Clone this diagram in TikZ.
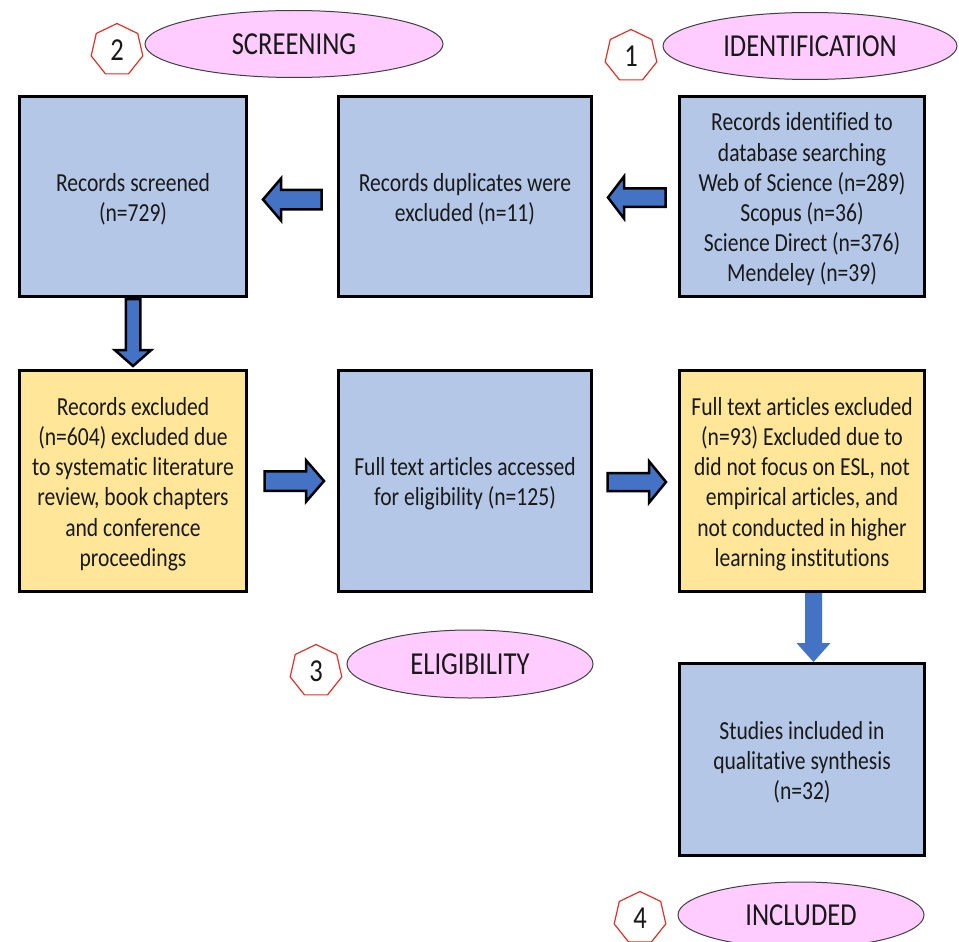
\documentclass[tikz,border=0pt]{standalone}
\usepackage{fontspec}
\setmainfont{Carlito}[FakeStretch=0.83, Ligatures=NoCommon]
\usetikzlibrary{shapes.geometric}
\definecolor{boxblue}{HTML}{B4C7E7}
\definecolor{boxyellow}{HTML}{FFE699}
\definecolor{ovalpink}{HTML}{FFCCFF}
\definecolor{arrowblue}{HTML}{4472C4}
\definecolor{heptred}{HTML}{D9342B}
\definecolor{ovaledge}{HTML}{404040}
\tikzset{
  stagebox/.style={draw=black, line width=3pt, inner sep=0pt, align=center,
    font=\fontsize{26}{30.2}\selectfont, text=black!90},
  bluebox/.style={stagebox, fill=boxblue},
  yellowbox/.style={stagebox, fill=boxyellow},
  phaseoval/.style={ellipse, draw=ovaledge, line width=1pt, fill=ovalpink,
    inner sep=0pt, font=\fontsize{32}{36}\selectfont, text=black!90},
  phasenum/.style={regular polygon, regular polygon sides=7, draw=heptred,
    line width=1.2pt, fill=white, minimum size=53pt, inner sep=0pt,
    font=\fontsize{32}{36}\selectfont, text=black!90},
  blockarrow/.style={fill=arrowblue, draw=black, line width=2.5pt, line join=miter},
  plainarrow/.style={fill=arrowblue, draw=none},
}
\newcommand\topstrut{\rule{0pt}{24pt}}
% tail, head base, tip, centre, shaft half width, head half width, style
\newcommand\myHArrow[7]{\draw[#7] (#1,#4-#5) -- (#2,#4-#5) -- (#2,#4-#6) -- (#3,#4) -- (#2,#4+#6) -- (#2,#4+#5) -- (#1,#4+#5) -- cycle;}
\newcommand\myVArrow[7]{\draw[#7] (#4-#5,#1) -- (#4-#5,#2) -- (#4-#6,#2) -- (#4,#3) -- (#4+#6,#2) -- (#4+#5,#2) -- (#4+#5,#1) -- cycle;}
\begin{document}
\begin{tikzpicture}[x=1pt,y=-1pt]
\useasboundingbox (0,0) rectangle (959,942);
\clip (0,0) rectangle (959,942);
\fill[white] (0,0) rectangle (959,942);

% phase labels
\node[phasenum] (n2) at (117,50) {2};
\node[phaseoval, minimum width=298pt, minimum height=67pt] (screening) at (294,44) {SCREENING};
\node[phasenum] (n1) at (631,56) {1};
\node[phaseoval, minimum width=294pt, minimum height=67pt] (identification) at (810,46) {IDENTIFICATION};
\node[phasenum] (n3) at (316,671) {3};
\node[phaseoval, minimum width=246pt, minimum height=68pt] (eligibility) at (470,664) {ELIGIBILITY};
\node[phasenum] (n4) at (640,918) {4};
\node[phaseoval, minimum width=246pt, minimum height=66pt] (included) at (801,915) {INCLUDED};

% boxes
\node[bluebox, minimum width=227pt, minimum height=200pt] (screened) at (133,196.5)
  {\topstrut Records screened\\(n=729)};
\node[bluebox, minimum width=253pt, minimum height=200pt] (duplicates) at (465,196.5)
  {\topstrut Records duplicates were\\excluded (n=11)};
\node[bluebox, minimum width=245pt, minimum height=200pt] (identified) at (802,196.5)
  {\topstrut Records identified to\\database searching\\Web of Science (n=289)\\Scopus (n=36)\\Science Direct (n=376)\\Mendeley (n=39)};
\node[yellowbox, minimum width=227pt, minimum height=221pt] (recexcl) at (133,481)
  {\topstrut Records excluded\\(n=604) excluded due\\to systematic literature\\review, book chapters\\and conference\\proceedings};
\node[bluebox, minimum width=253pt, minimum height=221pt] (fulltext) at (465,481)
  {\topstrut Full text articles accessed\\for eligibility (n=125)};
\node[yellowbox, minimum width=245pt, minimum height=221pt] (ftexcl) at (802,481)
  {\topstrut Full text articles excluded\\(n=93) Excluded due to\\did not focus on ESL, not\\empirical articles, and\\not conducted in higher\\learning institutions};
\node[bluebox, minimum width=245pt, minimum height=192pt] (studies) at (802,759.5)
  {\topstrut Studies included in\\qualitative synthesis\\(n=32)};

% block arrows
\myHArrow{321.5}{281}{263}{199.5}{9.75}{21}{blockarrow}
\myHArrow{665.5}{624}{608}{197.5}{9.25}{21}{blockarrow}
\myVArrow{299}{350}{366}{133}{7.25}{18.25}{blockarrow}
\myHArrow{264.5}{306}{324}{481}{9.75}{20.75}{blockarrow}
\myHArrow{607.5}{649}{666}{482}{9}{20.75}{blockarrow}
\myVArrow{593}{643}{662}{813.5}{8.5}{17}{plainarrow}
\end{tikzpicture}
\end{document}
